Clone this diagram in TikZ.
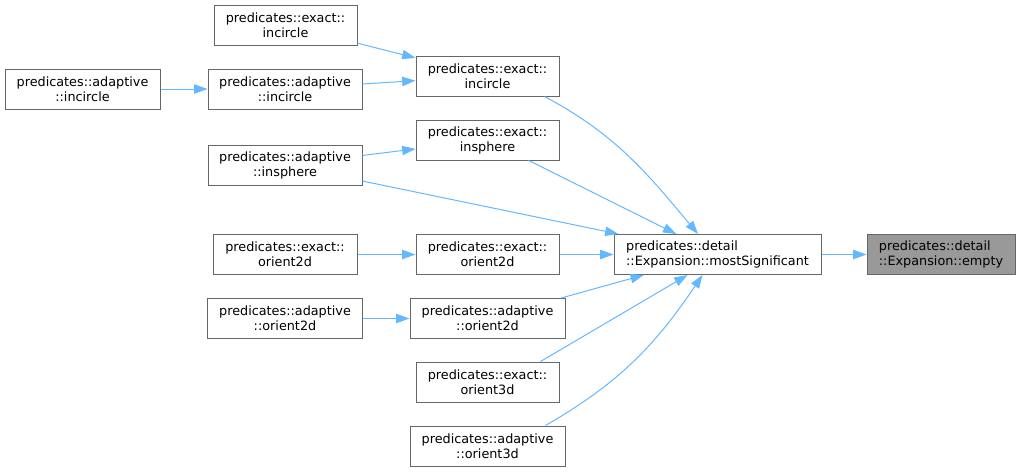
\documentclass[tikz,border=0pt]{standalone}
\usepackage{fontspec}
\setmainfont{DejaVu Sans}
\usetikzlibrary{arrows.meta,calc}

\definecolor{edgeblue}{HTML}{63B8FF}
\definecolor{boxgray}{HTML}{666666}
\definecolor{hitgray}{HTML}{999999}

\tikzset{
  fn/.style={draw=boxgray, line width=0.75pt, fill=white, inner sep=0pt,
    minimum height=30pt, align=center,
    font=\fontsize{9.6}{11.25}\selectfont},
  call/.style={draw=edgeblue, line width=0.75pt,
    -{Triangle[length=10pt,width=7pt,fill=edgeblue]}}
}

\begin{document}
\begin{tikzpicture}[x=0.75pt,y=-0.75pt]
        \useasboundingbox (0,0) rectangle (1020,472);

        % the function itself and its direct caller
        \node[fn, minimum width=111pt, fill=hitgray, align=left] (empty) at (941,254.5) {predicates::detail\\::Expansion::empty};
        \node[fn, minimum width=155.25pt, align=left] (mostSig) at (717.5,254.5) {predicates::detail\\::Expansion::mostSignificant};

        % callers of mostSignificant
        \node[fn, minimum width=107.25pt] (exactIncircle) at (487.5,76) {predicates::exact::\\incircle};
        \node[fn, minimum width=107.25pt] (exactInsphere) at (487.5,140) {predicates::exact::\\insphere};
        \node[fn, minimum width=107.25pt] (exactOrient2d) at (487.5,254.5) {predicates::exact::\\orient2d};
        \node[fn, minimum width=116.25pt] (adaptOrient2d) at (487.5,318.5) {predicates::adaptive\\::orient2d};
        \node[fn, minimum width=107.25pt] (exactOrient3d) at (487.5,382) {predicates::exact::\\orient3d};
        \node[fn, minimum width=116.25pt] (adaptOrient3d) at (487.5,446) {predicates::adaptive\\::orient3d};

        % next level
        \node[fn, minimum width=107.25pt] (exactIncircleL) at (285.5,25) {predicates::exact::\\incircle};
        \node[fn, minimum width=115.5pt] (adaptIncircle) at (285,89) {predicates::adaptive\\::incircle};
        \node[fn, minimum width=115.5pt] (adaptInsphere) at (285,165) {predicates::adaptive\\::insphere};
        \node[fn, minimum width=108pt] (exactOrient2dL) at (285,254.5) {predicates::exact::\\orient2d};
        \node[fn, minimum width=116.25pt] (adaptOrient2dL) at (285,318.5) {predicates::adaptive\\::orient2d};
        \node[fn, minimum width=116.25pt] (adaptIncircleL) at (82.5,89) {predicates::adaptive\\::incircle};

        % calls
        \draw[call] (mostSig) -- (empty);
        \draw[call] (exactIncircle.south east) ++(-15,0) coordinate (s1)
              (s1) to[out=-28,in=130] ($(mostSig.north)+(-19.5,0)$);
        \draw[call] (exactInsphere) -- (mostSig);
        \draw[call] (adaptInsphere) -- (mostSig);
        \draw[call] (exactOrient2d) -- (mostSig);
        \draw[call] (adaptOrient2d) -- (mostSig);
        \draw[call] ($(exactOrient3d.north east)+(-19,0)$) -- ($(mostSig.south)+(-30,0)$);
        \draw[call] ($(adaptOrient3d.north east)+(-20,0)$) to[out=30,in=-124] ($(mostSig.south)+(-15,0)$);

        \draw[call] (exactIncircleL) -- (exactIncircle);
        \draw[call] (adaptIncircle) -- (exactIncircle);
        \draw[call] (adaptInsphere) -- (exactInsphere);
        \draw[call] (exactOrient2dL) -- (exactOrient2d);
        \draw[call] (adaptOrient2dL) -- (adaptOrient2d);
        \draw[call] (adaptIncircleL) -- (adaptIncircle);
    \end{tikzpicture}
\end{document}
